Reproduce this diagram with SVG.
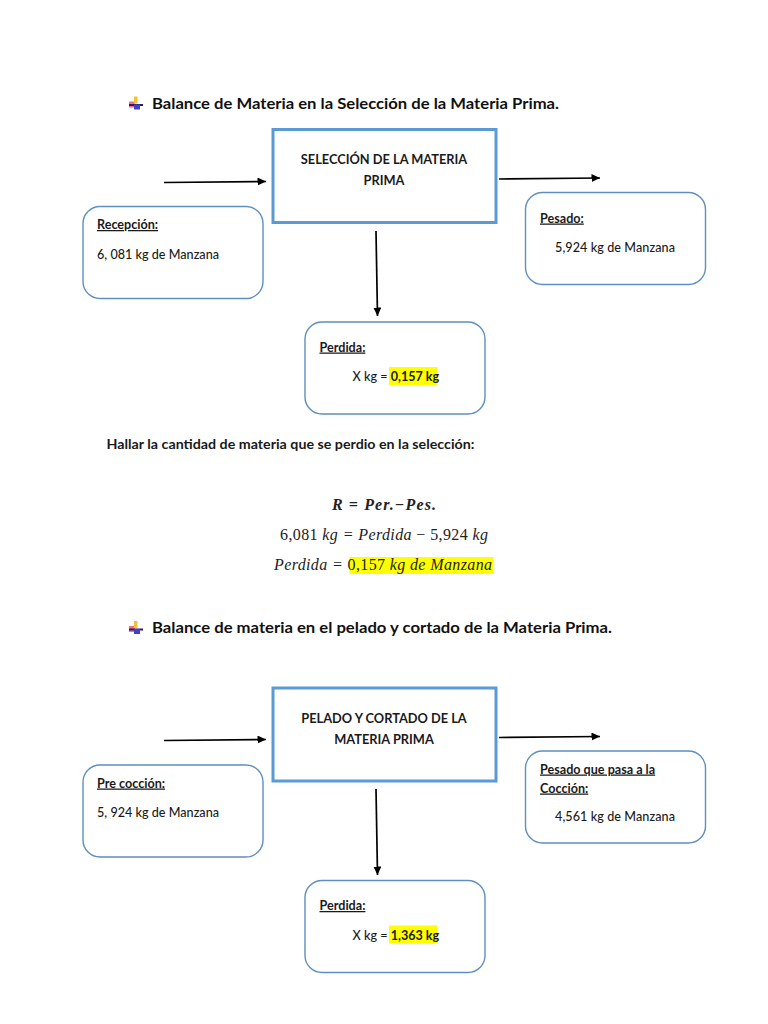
<svg xmlns="http://www.w3.org/2000/svg" width="768" height="1024" viewBox="0 0 768 1024">
<style>
text{font-family:Lato,"Liberation Sans",sans-serif;font-size:12.6px;font-weight:500;fill:#1a1a1a}
.h{font-size:15.5px;font-weight:700;fill:#111}
.b{font-weight:700}
.u{font-weight:700;text-decoration:underline}
.m{font-size:12.8px;font-weight:700;text-anchor:middle}
.main{fill:#fff;stroke:#5b9bd5;stroke-width:3}
.rnd{fill:#fff;stroke:#5f8fbd;stroke-width:1.4}
.hl{fill:#ffff00;stroke:none}
.eq{font-family:"Liberation Serif",serif;font-style:italic;font-size:16px;font-weight:400;fill:#222}
.num{font-family:"Liberation Serif",serif;font-size:16px;font-weight:400;fill:#222}
.c{stroke:#000;stroke-width:1.7;fill:none;marker-end:url(#a)}
</style>
<defs>
<marker id="a" markerUnits="userSpaceOnUse" markerWidth="9" markerHeight="8" refX="8.5" refY="4" orient="auto"><path d="M0 0L8.500 4L0 8Z" fill="#000"/></marker>
<g id="bullet">
<rect x="-7" y="-1" width="6" height="6" fill="#f4708a"/>
<rect x="-2" y="-6" width="3.500" height="7" fill="#f2c230"/>
<rect x="-7" y="1.500" width="14" height="2" fill="#2a1a70"/>
<rect x="-2" y="2" width="6" height="5" fill="#4040c8"/>
</g>
</defs>

<g id="heading-1"><use href="#bullet" x="136" y="102.500"/><text class="h" x="152" y="109" textLength="407" lengthAdjust="spacingAndGlyphs">Balance de Materia en la Selección de la Materia Prima.</text></g>
<g id="heading-2"><use href="#bullet" x="136" y="627"/><text class="h" x="152" y="633" textLength="460" lengthAdjust="spacingAndGlyphs">Balance de materia en el pelado y cortado de la Materia Prima.</text></g>

<g id="connectors">
<path class="c" d="M164 182.500L266 181.500"/>
<path class="c" d="M499 179L600 178"/>
<path class="c" d="M376 231L377.500 316"/>
<path class="c" d="M164 740.500L266 739.500"/>
<path class="c" d="M499 737.500L600 736.500"/>
<path class="c" d="M376 789L377.500 875"/>
</g>

<g id="seleccion"><rect class="main" x="273" y="129.500" width="223" height="93"/><text class="m" x="384" y="164">SELECCIÓN DE LA MATERIA</text><text class="m" x="384" y="185">PRIMA</text></g>
<g id="recepcion"><rect class="rnd" x="83" y="206.500" width="180" height="92" rx="17"/><text class="u" x="97" y="229">Recepción:</text><text x="97" y="258.500" textLength="122">6, 081 kg de Manzana</text></g>
<g id="pesado"><rect class="rnd" x="525.500" y="192.500" width="180" height="92" rx="17"/><text class="u" x="540" y="222.500">Pesado:</text><text x="555" y="251.500" textLength="120">5,924 kg de Manzana</text></g>
<g id="perdida-1"><rect class="rnd" x="305" y="322" width="180" height="92" rx="17"/><text class="u" x="319.500" y="351.500">Perdida:</text><rect class="hl" x="389" y="367" width="48.500" height="18"/><text x="352.500" y="381">X kg = <tspan class="b">0,157 kg</tspan></text></g>

<text class="b" x="106.500" y="448.500" style="font-size:13.2px" textLength="368" lengthAdjust="spacingAndGlyphs">Hallar la cantidad de materia que se perdio en la selección:</text>
<text class="eq" x="332" y="510" style="font-weight:700" textLength="104">R = Per.−Pes.</text>
<text class="num" x="280" y="540" textLength="208">6,081 <tspan font-style="italic">kg = Perdida</tspan> − 5,924 <tspan font-style="italic">kg</tspan></text>
<rect class="hl" x="349.500" y="557" width="144" height="17"/>
<text class="eq" x="274" y="570" textLength="218">Perdida = <tspan font-style="normal">0,157</tspan> kg de Manzana</text>

<g id="pelado"><rect class="main" x="273" y="688" width="223" height="93"/><text class="m" x="384" y="722.500">PELADO Y CORTADO DE LA</text><text class="m" x="384" y="743.500">MATERIA PRIMA</text></g>
<g id="precoccion"><rect class="rnd" x="83" y="765" width="180" height="92" rx="17"/><text class="u" x="97" y="787.500">Pre cocción:</text><text x="97" y="817" textLength="122">5, 924 kg de Manzana</text></g>
<g id="pesado-coccion"><rect class="rnd" x="525.500" y="751" width="180" height="92" rx="17"/><text class="u" x="540" y="773.500">Pesado que pasa a la</text><text class="u" x="540" y="792.500">Cocción:</text><text x="555" y="821" textLength="120">4,561 kg de Manzana</text></g>
<g id="perdida-2"><rect class="rnd" x="305" y="880.500" width="180" height="92" rx="17"/><text class="u" x="319.500" y="910">Perdida:</text><rect class="hl" x="389" y="925.500" width="48.500" height="18"/><text x="352.500" y="939.500">X kg = <tspan class="b">1,363 kg</tspan></text></g>
</svg>
